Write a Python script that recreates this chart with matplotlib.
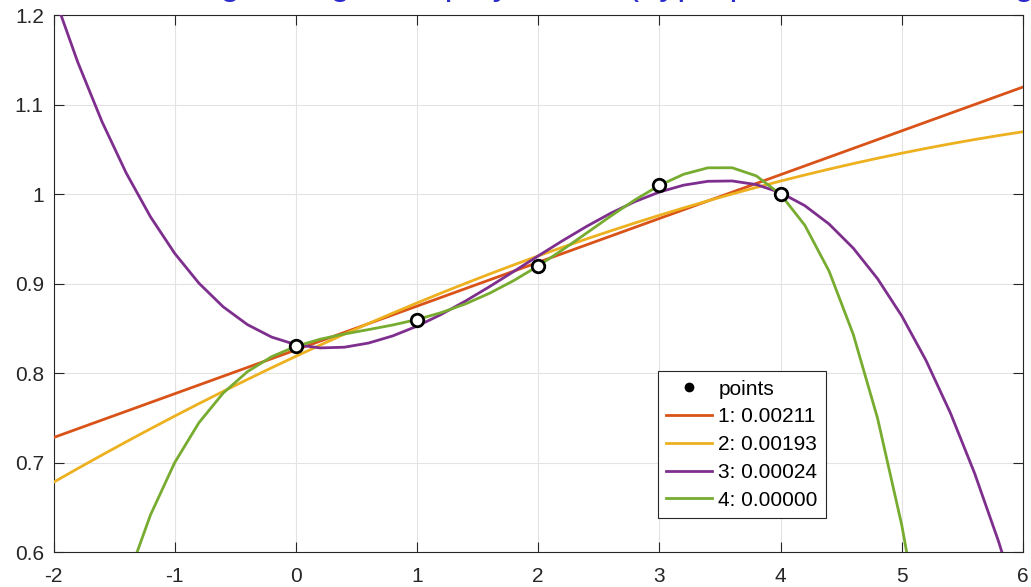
import numpy as np
import matplotlib
matplotlib.use("Agg")
import matplotlib.pyplot as plt
from matplotlib.lines import Line2D

# ---- data ----
x_points = [0, 1, 2, 3, 4]
y_points = [0.83, 0.86, 0.92, 1.01, 1.00]
degrees = [1, 2, 3, 4]
sse_labels = ["0.00211", "0.00193", "0.00024", "0.00000"]
line_colors = ["#D95319", "#EDB120", "#7E2F8E", "#77AC30"]
x_ticks = [-2, -1, 0, 1, 2, 3, 4, 5, 6]
y_ticks = [0.6, 0.7, 0.8, 0.9, 1.0, 1.1, 1.2]
y_ticklabels = ["0.6", "0.7", "0.8", "0.9", "1", "1.1", "1.2"]
title_text = "Model fitting: a degree-n polynomial (hyperparameter: the degree)"

plt.rcParams["font.family"] = ["Liberation Sans", "DejaVu Sans"]
plt.rcParams["axes.unicode_minus"] = False

fig = plt.figure(figsize=(10.31, 5.87), dpi=100)
ax = fig.add_axes([0.0519, 0.0596, 0.9403, 0.914])

xx = np.arange(-2, 6.0001, 0.2)
for deg, lab, col in zip(degrees, sse_labels, line_colors):
    coef = np.polyfit(x_points, y_points, deg)
    ax.plot(xx, np.polyval(coef, xx), color=col, lw=2.0,
            label=f"{deg}: {lab}", zorder=3)

ax.plot(x_points, y_points, linestyle="none", marker="o", markersize=9,
        markerfacecolor="white", markeredgecolor="black", markeredgewidth=2.0,
        zorder=5)

ax.set_xlim(-2, 6)
ax.set_ylim(0.6, 1.2)
ax.set_xticks(x_ticks)
ax.set_yticks(y_ticks)
ax.set_yticklabels(y_ticklabels)
ax.grid(True, color="#E3E3E3", lw=0.8)
ax.set_axisbelow(True)
for s in ax.spines.values():
    s.set_color("#262626")
    s.set_linewidth(0.8)
ax.tick_params(direction="in", length=7, width=0.8, colors="#262626",
               labelsize=15, top=True, right=True, labelcolor="#262626")
ax.tick_params(axis="x", pad=11)
ax.tick_params(axis="y", pad=7)

handles = [Line2D([], [], linestyle="none", marker="o", markersize=6,
                  color="black")]
labels = ["points"]
h, l = ax.get_legend_handles_labels()
handles += h
labels += l
leg = ax.legend(handles, labels, loc="lower left",
                bbox_to_anchor=(0.6235, 0.0634), borderaxespad=0,
                fontsize=15, frameon=True, fancybox=False,
                handlelength=2.2, handletextpad=0.3, labelspacing=0.42,
                borderpad=0.4)
leg.get_frame().set_edgecolor("#262626")
leg.get_frame().set_linewidth(0.8)
leg.get_frame().set_alpha(1)

fig.text(46 / 1031, 1.0105, title_text, ha="left", va="baseline",
         fontsize=26, color="#2B2BCC")

fig.savefig("out.png", dpi=100)
